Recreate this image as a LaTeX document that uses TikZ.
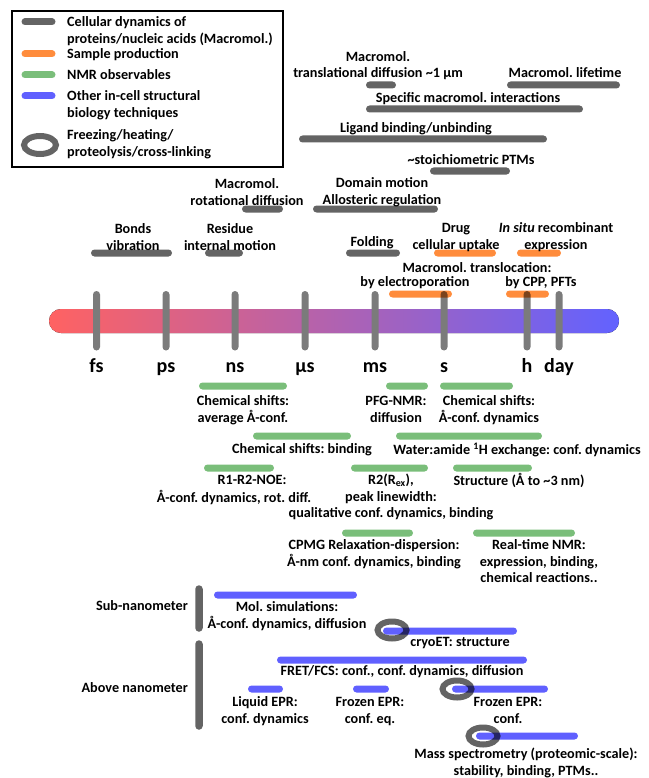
\documentclass[tikz,border=0pt]{standalone}
\usepackage{fontspec}
\setmainfont{Carlito}
\frenchspacing
\newcommand\lf{\fontsize{14.2}{16.5}\selectfont\bfseries}
\newcommand\tf{\fontsize{20}{22}\selectfont\bfseries}
\newcommand\mystr{\rule{0pt}{11pt}}
\definecolor{cgray}{RGB}{100,100,100}
\definecolor{corange}{RGB}{255,140,60}
\definecolor{cgreen}{RGB}{122,190,122}
\definecolor{cblue}{RGB}{96,96,255}
\definecolor{tred}{RGB}{255,98,98}
\definecolor{tblue}{RGB}{98,98,255}
\tikzset{
  bar/.style={line width=7pt, line cap=round},
  gbar/.style={bar, draw=cgray},
  obar/.style={bar, draw=corange},
  nbar/.style={bar, draw=cgreen},
  ubar/.style={bar, draw=cblue},
  ring/.style={draw=cgray, line width=6pt},
  tick/.style={draw=cgray!85, line width=7pt, line cap=round},
  lbl/.style={align=center, inner sep=0pt, anchor=north, font=\lf},
  leg/.style={align=left, inner sep=0pt, anchor=north west, font=\lf},
  tlab/.style={inner sep=0pt, anchor=base, font=\tf},
}
\begin{document}
\begin{tikzpicture}[x=1pt,y=-1pt]
\useasboundingbox (0,0) rectangle (648,778);
% legend
\draw[line width=2.5pt] (12,11) rectangle (283,167);
\draw[gbar] (25,22) -- (52,22);
\draw[obar] (25,54) -- (52,54);
\draw[nbar] (25,75) -- (52,75);
\draw[ubar] (25,96) -- (52,96);
\draw[ring] (40,145) ellipse [x radius=16, y radius=9];
\node[leg] (l1) at (67,15.5) {\mystr Cellular dynamics of\\proteins/nucleic acids (Macromol.)};
\node[leg] (l2) at (67,47.5) {\mystr Sample production};
\node[leg] (l3) at (67,68.5) {\mystr NMR observables};
\node[leg] (l4) at (67,89.5) {\mystr Other in-cell structural\\biology techniques};
\node[leg] (l5) at (67,128.5) {\mystr Freezing/heating/\\proteolysis/cross-linking};
% timeline
\fill[left color=tred, right color=tblue, rounded corners=12pt] (49,309) rectangle (619,333);
\begin{scope}[blend group=multiply]
\foreach \x in {96.5,166,235,305,375,444,527,559} \draw[tick] (\x,294.5) -- (\x,347);
% gray bars
\draw[gbar] (369.5,85) -- (392.5,85);
\draw[gbar] (510.5,85) -- (616.5,85);
\draw[gbar] (369.5,109) -- (579.5,109);
\draw[gbar] (302.5,139) -- (543.5,139);
\draw[gbar] (433.5,171) -- (506.5,171);
\draw[gbar] (245.5,209) -- (279.5,209);
\draw[gbar] (316.5,209) -- (434.5,209);
\draw[gbar] (94.5,253) -- (168.5,253);
\draw[gbar] (208.5,253) -- (239.5,253);
\draw[gbar] (349.5,253) -- (396.5,253);
% orange bars
\draw[obar] (437.5,253) -- (492.5,253);
\draw[obar] (520.5,253) -- (557.5,253);
\draw[obar] (392.5,294) -- (448.5,294);
\draw[obar] (509.5,294) -- (545.5,294);
% green bars
\draw[nbar] (202.5,386) -- (283.5,386);
\draw[nbar] (389.5,386) -- (424.5,386);
\draw[nbar] (443.5,386) -- (509.5,386);
\draw[nbar] (256.5,436) -- (347.5,436);
\draw[nbar] (399.5,436) -- (538.5,436);
\draw[nbar] (207.5,468) -- (270.5,468);
\draw[nbar] (354.5,468) -- (424.5,468);
\draw[nbar] (456.5,468) -- (528.5,468);
\draw[nbar] (345.5,533) -- (409.5,533);
\draw[nbar] (476.5,533) -- (571.5,533);
% scale bars
\draw[gbar, line width=7.5pt] (199,589) -- (199,628);
\draw[gbar, line width=7.5pt] (199,644) -- (199,726);
% rings
\draw[ring] (392,630) ellipse [x radius=14.5, y radius=8.5];
\draw[ring] (457,689) ellipse [x radius=14.5, y radius=8.5];
\draw[ring] (483,736) ellipse [x radius=14.5, y radius=8.5];
% blue bars
\draw[ubar] (217.5,595) -- (353.5,595);
\draw[ubar] (386.5,631) -- (513.5,631);
\draw[ubar] (280.5,660) -- (523.5,660);
\draw[ubar] (251.5,689) -- (279.5,689);
\draw[ubar] (356.5,689) -- (385.5,689);
\draw[ubar] (455.5,689) -- (544.5,689);
\draw[ubar] (479.5,736) -- (574.5,736);
\end{scope}
% tick labels
\node[tlab] (tfs) at (96.5,372) {fs};
\node[tlab] (tps) at (166,372) {ps};
\node[tlab] (tns) at (235,372) {ns};
\node[tlab] (tus) at (305,372) {µs};
\node[tlab] (tms) at (375,372) {ms};
\node[tlab] (ts) at (444,372) {s};
\node[tlab] (th) at (527,372) {h};
\node[tlab] (tday) at (559,372) {day};
% top labels
\node[lbl] (a1) at (378,50) {\mystr Macromol.\\translational diffusion \textasciitilde1 µm};
\node[lbl] (a2) at (565,66.5) {\mystr Macromol. lifetime};
\node[lbl] (a3) at (468,91.5) {\mystr Specific macromol. interactions};
\node[lbl] (a4) at (416,121.5) {\mystr Ligand binding/unbinding};
\node[lbl] (a5) at (471,153.5) {\mystr \textasciitilde stoichiometric PTMs};
\node[lbl] (a6) at (247,177.5) {\mystr Macromol.\\rotational diffusion};
\node[lbl] (a7) at (382,176.5) {\mystr Domain motion\\Allosteric regulation};
\node[lbl] (a8) at (133,222.5) {\mystr Bonds\\vibration};
\node[lbl] (a9) at (230,222.5) {\mystr Residue\\internal motion};
\node[lbl] (a10) at (372,235.5) {\mystr Folding};
\node[lbl] (a11) at (456,221.5) {\mystr Drug\\cellular uptake};
\node[lbl] (a12) at (556,221.5) {\mystr \textit{In situ} recombinant\\expression};
\node[lbl] (a13) at (477,261.5) {\mystr Macromol. translocation:};
\node[lbl] (a14) at (415,275.5) {\mystr by electroporation};
\node[lbl] (a15) at (541,275.5) {\mystr by CPP, PFTs};
% NMR labels
\node[lbl] (n1) at (243,394.5) {\mystr Chemical shifts:\\average Å-conf.};
\node[lbl] (n2) at (396,394.5) {\mystr PFG-NMR:\\diffusion};
\node[lbl] (n3) at (489,394.5) {\mystr Chemical shifts:\\Å-conf. dynamics};
\node[lbl] (n4) at (302,442.5) {\mystr Chemical shifts: binding};
\node[lbl] (n5) at (517,442.5) {\mystr Water:amide \textsuperscript{1}H exchange: conf. dynamics};
\node[lbl] (n6) at (252,473.5) {\mystr R1-R2-NOE:};
\node[lbl] (n6b) at (234,490.5) {\mystr Å-conf. dynamics, rot. diff.};
\node[lbl] (n7) at (391,473.5) {\mystr R2(R\textsubscript{ex}),\\peak linewidth:\\qualitative conf. dynamics, binding};
\node[lbl] (n8) at (519,473.5) {\mystr Structure (Å to \textasciitilde3 nm)};
\node[lbl] (n9) at (374,538.5) {\mystr CPMG Relaxation-dispersion:\\Å-nm conf. dynamics, binding};
\node[lbl] (n10) at (539,538.5) {\mystr Real-time NMR:\\expression, binding,\\chemical reactions..};
% other techniques
\node[lbl, anchor=north east] (s1) at (188,599.5) {\mystr Sub-nanometer};
\node[lbl, anchor=north east] (s2) at (188,681.5) {\mystr Above nanometer};
\node[lbl] (o1) at (287,600.5) {\mystr Mol. simulations:\\Å-conf. dynamics, diffusion};
\node[lbl] (o2) at (460,635.5) {\mystr cryoET: structure};
\node[lbl] (o3) at (402,664.5) {\mystr FRET/FCS: conf., conf. dynamics, diffusion};
\node[lbl] (o4) at (265,695.5) {\mystr Liquid EPR:\\conf. dynamics};
\node[lbl] (o5) at (370,695.5) {\mystr Frozen EPR:\\conf. eq.};
\node[lbl] (o6) at (508,695.5) {\mystr Frozen EPR:\\conf.};
\node[lbl] (o7) at (526,747.5) {\mystr Mass spectrometry (proteomic-scale):\\stability, binding, PTMs..};
\end{tikzpicture}
\end{document}
